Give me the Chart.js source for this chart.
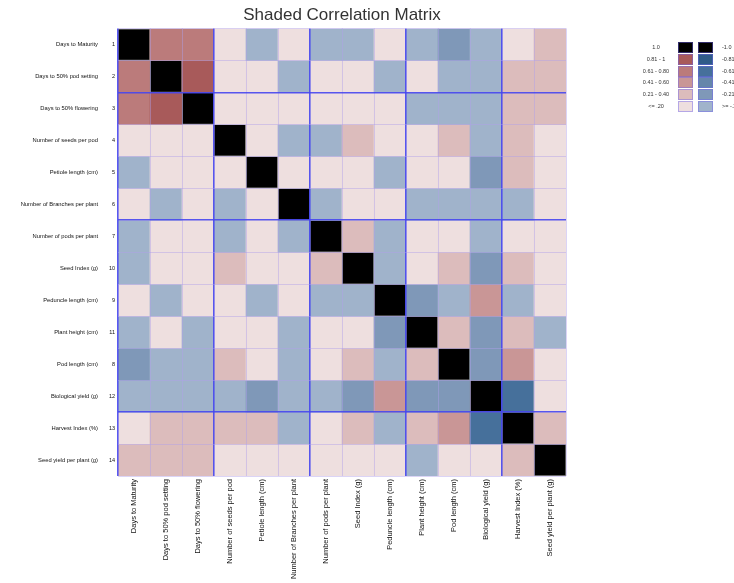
<!DOCTYPE html>
<html><head><meta charset="utf-8">
<script src="https://cdn.jsdelivr.net/npm/chart.js@4/dist/chart.umd.min.js"></script>
<style>
html,body{margin:0;padding:0;background:#fff;overflow:hidden;width:734px;height:583px;font-family:"Liberation Sans",Arial,sans-serif}
#c{position:absolute;left:0;top:0}
.lab{position:absolute;font-size:5.5px;line-height:10px;color:#333;white-space:nowrap}
.sw{position:absolute;width:13px;height:9px;border:1px solid rgba(110,100,240,0.45)}
</style></head><body>
<canvas id="c" width="734" height="583"></canvas>
<div id="legend"></div>
<script>
const rowNames = ['Days to Maturity','Days to 50% pod setting','Days to 50% flowering','Number of seeds per pod','Petiole length (cm)','Number of Branches per plant','Number of pods per plant','Seed Index (g)','Peduncle length (cm)','Plant height (cm)','Pod length (cm)','Biological yield (g)','Harvest Index (%)','Seed yield per plant (g)'];
const rowNums = ['1','2','3','4','5','6','7','10','9','11','8','12','13','14'];
const colNames = ['Days to Maturity','Days to 50% pod setting','Days to 50% flowering','Number of seeds per pod','Petiole length (cm)','Number of Branches per plant','Number of pods per plant','Seed Index (g)','Peduncle length (cm)','Plant height (cm)','Pod length (cm)','Biological yield (g)','Harvest Index (%)','Seed yield per plant (g)'];
const corr = [
 [1, .7, .7, .1,-.1, .1,-.1,-.1, .1,-.1,-.3,-.1, .1, .3],
 [.7, 1, .9, .1, .1,-.1, .1, .1,-.1, .1,-.1,-.1, .3, .3],
 [.7, .9, 1, .1, .1, .1, .1, .1, .1,-.1,-.1,-.1, .3, .3],
 [.1, .1, .1, 1, .1,-.1,-.1, .3, .1, .1, .3,-.1, .3, .1],
 [-.1, .1, .1, .1, 1, .1, .1, .1,-.1, .1, .1,-.3, .3, .1],
 [.1,-.1, .1,-.1, .1, 1,-.1, .1, .1,-.1,-.1,-.1,-.1, .1],
 [-.1, .1, .1,-.1, .1,-.1, 1, .3,-.1, .1, .1,-.1, .1, .1],
 [-.1, .1, .1, .3, .1, .1, .3, 1,-.1, .1, .3,-.3, .3, .1],
 [.1,-.1, .1, .1,-.1, .1,-.1,-.1, 1,-.3,-.1, .5,-.1, .1],
 [-.1, .1,-.1, .1, .1,-.1, .1, .1,-.3, 1, .3,-.3, .3,-.1],
 [-.3,-.1,-.1, .3, .1,-.1, .1, .3,-.1, .3, 1,-.3, .5, .1],
 [-.1,-.1,-.1,-.1,-.3,-.1,-.1,-.3, .5,-.3,-.3, 1,-.7, .1],
 [.1, .3, .3, .3, .3,-.1, .1, .3,-.1, .3, .5,-.7, 1, .3],
 [.3, .3, .3, .1, .1, .1, .1, .1, .1,-.1, .1, .1, .3, 1]
];
const legendPos = ['1.0','0.81 - 1','0.61 - 0.80','0.41 - 0.60','0.21 - 0.40','<= .20'];
const legendNeg = ['-1.0','-0.81 - -1','-0.61 - -0.80','-0.41 - -0.60','-0.21 - -0.40','>= -.20'];
const strongCols = [0,3,6,9,12];
const strongRows = [2,6,12];

const posColors = ['#000000','#a85a5a','#bb7b7b','#c99696','#dcbcbc','#eedfdf'];
const negColors = ['#000000','#2f5b88','#46709b','#6586aa','#7f98b8','#a0b3cb'];
const STRONG = 'rgba(70,70,240,0.9)';
const FAINT = 'rgba(175,160,235,0.45)';
function shade(v){
  if (v >= 1) return posColors[0];
  const a = Math.abs(v);
  const idx = a > 0.8 ? 1 : a > 0.6 ? 2 : a > 0.4 ? 3 : a > 0.2 ? 4 : 5;
  return (v >= 0 ? posColors : negColors)[idx];
}
const datasets = rowNames.map((name, r) => ({
  label: name,
  data: colNames.map(() => [r, r + 1]),
  backgroundColor: corr[r].map(v => shade(v)),
  borderColor: '#8a8a8a',
  borderWidth: colNames.map((c, j) => j === r ? 1 : 0),
  borderSkipped: false,
  grouped: false,
  barPercentage: 1,
  categoryPercentage: 1,
  xAxisID: 'x', yAxisID: 'y'
}));

new Chart(document.getElementById('c'), {
  type: 'bar',
  data: { labels: colNames, datasets },
  options: {
    responsive: false, animation: false, devicePixelRatio: 1,
    layout: { padding: { left: 0, right: 168, top: 0, bottom: 0 } },
    plugins: {
      legend: { display: false }, tooltip: { enabled: false },
      title: { display: true, text: 'Shaded Correlation Matrix', fullSize: false, color: '#333',
        font: { size: 17, family: 'Liberation Sans', weight: 'normal' }, padding: { top: 5, bottom: 3 } }
    },
    scales: {
      x: { type: 'category', labels: colNames, offset: true, position: 'bottom',
        grid: { offset: true, drawTicks: false, z: 1,
          color: ctx => strongCols.includes(ctx.index) ? STRONG : FAINT,
          lineWidth: ctx => strongCols.includes(ctx.index) ? 1.6 : 1 },
        border: { display: false },
        ticks: { autoSkip: false, maxRotation: 90, minRotation: 90, padding: 3, color: '#111',
          font: { size: 7.5, family: 'Liberation Sans' } },
        afterFit: s => { s.height = 107; } },
      y: { type: 'linear', reverse: true, min: 0, max: 14, position: 'left', weight: 0,
        ticks: { display: false, stepSize: 1 },
        grid: { drawTicks: false, z: 1,
          color: ctx => (ctx.tick && strongRows.includes(ctx.tick.value)) ? STRONG : FAINT,
          lineWidth: ctx => (ctx.tick && strongRows.includes(ctx.tick.value)) ? 1.6 : 1 },
        border: { display: false },
        afterFit: s => { s.width = 0; } },
      yNum: { type: 'category', labels: rowNums, position: 'left', weight: 1, offset: true,
        grid: { display: false, drawTicks: false }, border: { display: false },
        ticks: { autoSkip: false, padding: 3, color: '#111', font: { size: 5.5, family: 'Liberation Sans' } },
        afterFit: s => { s.width = 18; } },
      yName: { type: 'category', labels: rowNames, position: 'left', weight: 2, offset: true,
        grid: { display: false, drawTicks: false }, border: { display: false },
        ticks: { autoSkip: false, padding: 2, color: '#111', font: { size: 5.8, family: 'Liberation Sans' } },
        afterFit: s => { s.width = 100; } }
    }
  }
});

const lg = document.getElementById('legend');
function add(cls, left, top, text, style) {
  const d = document.createElement('div');
  d.className = cls; d.style.left = left + 'px'; d.style.top = top + 'px';
  if (text !== undefined) d.textContent = text;
  Object.assign(d.style, style || {});
  lg.appendChild(d);
}
legendPos.forEach((t, i) => {
  const top = 42 + i * 11.8;
  add('lab', 638, top, t, { width: '36px', textAlign: 'center' });
  add('sw', 678, top, undefined, { background: posColors[i] });
  add('sw', 698, top, undefined, { background: negColors[i] });
  add('lab', 722, top, legendNeg[i]);
});
</script>
</body></html>
